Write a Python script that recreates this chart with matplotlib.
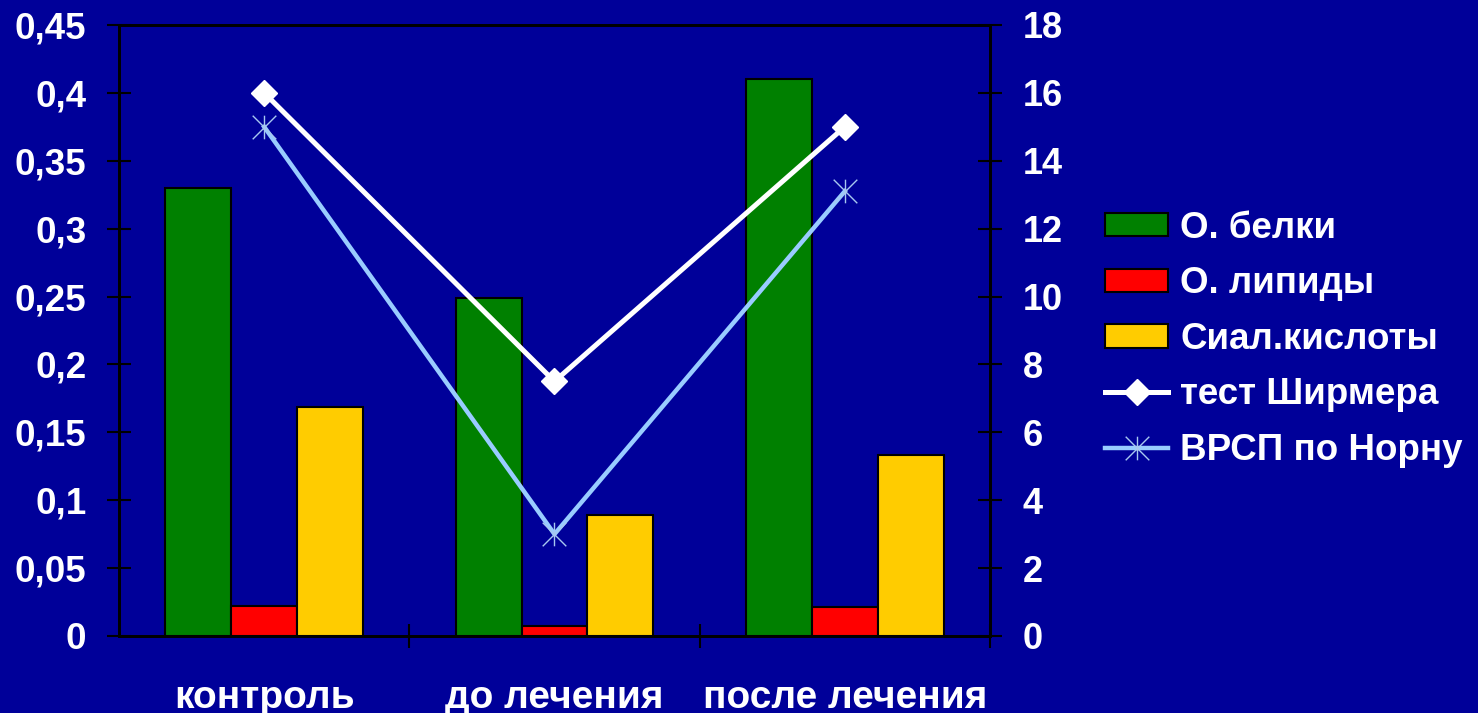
import numpy as np
import matplotlib.pyplot as plt
from matplotlib.path import Path
from matplotlib.ticker import FuncFormatter

plt.rcParams['font.family'] = ['Liberation Sans', 'DejaVu Sans']
plt.rcParams['font.weight'] = 'bold'

groups = ['контроль', 'до лечения', 'после лечения']
belki = [0.330, 0.249, 0.410]
lipidy = [0.022, 0.007, 0.021]
sial = [0.169, 0.089, 0.133]
shirmer = [16.0, 7.5, 15.0]
vrsp = [15.0, 3.0, 13.1]

bg = '#000099'

# Excel-style star: an X crossed by a vertical stroke
star = Path([(-1, -1), (1, 1), (-1, 1), (1, -1), (0, -1), (0, 1)],
            [Path.MOVETO, Path.LINETO, Path.MOVETO, Path.LINETO, Path.MOVETO, Path.LINETO])

fig = plt.figure(figsize=(14.78, 7.13), dpi=100, facecolor=bg)
ax = fig.add_axes([0.0805, 0.108, 0.5893, 0.857])
ax.set_facecolor(bg)
ax2 = ax.twinx()

x = np.arange(len(groups))
w = 0.227
b1 = ax.bar(x - w, belki, w, color='#008000', edgecolor='black', linewidth=1.5, label='О. белки')
b2 = ax.bar(x, lipidy, w, color='#ff0000', edgecolor='black', linewidth=1.5, label='О. липиды')
b3 = ax.bar(x + w, sial, w, color='#ffcc00', edgecolor='black', linewidth=1.5, label='Сиал.кислоты')

l1, = ax2.plot(x, shirmer, color='white', lw=3.6, marker='D', ms=13.5, label='тест Ширмера')
l2, = ax2.plot(x, vrsp, color='#99ccff', lw=3.2, marker=star, ms=17,
               mec='#a8c8f0', mew=1.0, label='ВРСП по Норну')

ax.set_xlim(-0.5, 2.5)
ax.set_ylim(0, 0.45)
ax2.set_ylim(0, 18)
ax.set_yticks(np.arange(0, 0.451, 0.05))
ax2.set_yticks(np.arange(0, 19, 2))
ax.yaxis.set_major_formatter(FuncFormatter(lambda v, p: f'{v:.2f}'.rstrip('0').rstrip('.').replace('.', ',')))

ax.set_xticks([0.5, 1.5, 2.5])
ax.set_xticklabels([])
ax.set_xticks(x, minor=True)
ax.set_xticklabels(groups, minor=True)
ax.tick_params(axis='x', which='major', direction='inout', length=17, width=1.5, color='black')
ax.tick_params(axis='x', which='minor', length=0, pad=31.5, labelsize=28, labelcolor='white')
ax.tick_params(axis='y', direction='inout', length=17, width=1.5, color='black', pad=15,
               labelsize=26.5, labelcolor='white')
ax2.tick_params(axis='y', direction='inout', length=17, width=1.5, color='black', pad=15,
                labelsize=26, labelcolor='white')

for a in (ax, ax2):
    for s in a.spines.values():
        s.set_color('black')
        s.set_linewidth(2)

handles = [b1, b2, b3, l1, l2]
fig.legend(handles=handles, labels=[h.get_label() for h in handles],
           loc='center left', bbox_to_anchor=(0.7253, 0.524), frameon=False,
           fontsize=26.5, labelcolor='white', handlelength=1.71, handleheight=0.6,
           handletextpad=0.33, labelspacing=0.56)

fig.savefig('out.png', dpi=100, facecolor=bg)
